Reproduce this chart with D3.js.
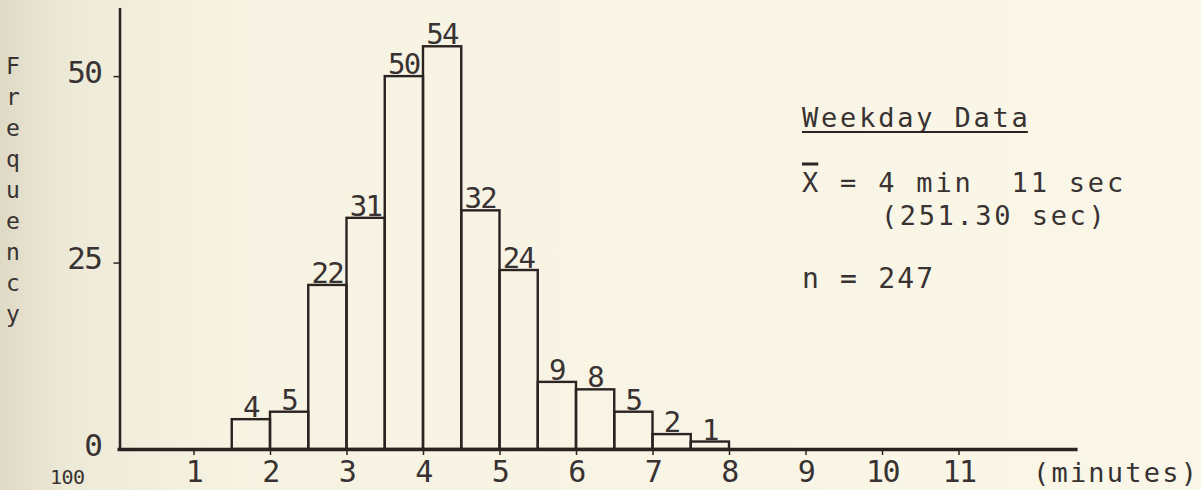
<!DOCTYPE html>
<html><head><meta charset="utf-8">
<script src="https://cdn.jsdelivr.net/npm/d3@7"></script>
<style>
html,body{margin:0;padding:0;background:#f8f4e4;}
body{width:1201px;height:490px;overflow:hidden;}
svg{display:block}
text{font-family:"DejaVu Sans Mono",monospace;fill:#383232;white-space:pre;}
</style></head><body>
<svg id="c" width="1201" height="490"></svg>
<script>
// ---- data ----
const binStarts = [1.5, 2, 2.5, 3, 3.5, 4, 4.5, 5, 5.5, 6, 6.5, 7, 7.5];
const binWidth = 0.5;
const frequencies = [4, 5, 22, 31, 50, 54, 32, 24, 9, 8, 5, 2, 1];
const xTicks = [1, 2, 3, 4, 5, 6, 7, 8, 9, 10, 11];
const yTicks = [0, 25, 50];
const yTitle = "Frequency";
const xUnit = "(minutes)";
const infoTitle = "Weekday Data";
const meanLine = "X = 4 min  11 sec";
const meanSecLine = "(251.30 sec)";
const nLine = "n = 247";
const strayLabel = "100";

const ink = "#2b2222";
const svg = d3.select("#c");

// background (paper with darker left edge)
const defs = svg.append("defs");
const g0 = defs.append("linearGradient").attr("id", "paper").attr("x1", 0).attr("x2", 1).attr("y1", 0).attr("y2", 0);
g0.append("stop").attr("offset", "0").attr("stop-color", "#dedac6");
g0.append("stop").attr("offset", "0.06").attr("stop-color", "#eeead8");
g0.append("stop").attr("offset", "0.2").attr("stop-color", "#f7f3e3");
g0.append("stop").attr("offset", "1").attr("stop-color", "#faf7e8");
svg.append("rect").attr("width", 1201).attr("height", 490).attr("fill", "url(#paper)");

// scales
const x = d3.scaleLinear().domain([0, 12.55]).range([117, 117 + 12.55 * 76.5]);
const y = d3.scaleLinear().domain([0, 59.2]).range([449, 7.5]);
const yAxisX = 119.5;

// bars
svg.append("g").selectAll("rect").data(frequencies).join("rect")
  .attr("x", (d, i) => x(binStarts[i]))
  .attr("width", (d, i) => x(binStarts[i] + binWidth) - x(binStarts[i]))
  .attr("y", d => y(d))
  .attr("height", d => y(0) - y(d))
  .attr("fill", "none").attr("stroke", ink).attr("stroke-width", 2.4);

// bar value labels
svg.append("g").selectAll("text").data(frequencies).join("text")
  .attr("x", (d, i) => x(binStarts[i] + binWidth / 2))
  .attr("y", d => y(d) - 2)
  .attr("text-anchor", "middle")
  .attr("font-size", 29).attr("letter-spacing", -1.5)
  .text(d => d);

// x axis
const xAxis = d3.axisBottom(x).tickValues(xTicks).tickSize(6).tickSizeOuter(0).tickPadding(6);
const gx = svg.append("g").attr("transform", `translate(0,${y(0)})`).call(xAxis);
gx.select(".domain").attr("stroke", ink).attr("stroke-width", 3.5);
gx.selectAll(".tick line").attr("stroke", ink).attr("stroke-width", 1.5);
gx.selectAll(".tick text").attr("font-size", 30).attr("font-family", null).attr("fill", null).attr("letter-spacing", -1.5);

// y axis
const yAxis = d3.axisLeft(y).tickValues(yTicks).tickSize(6).tickSizeOuter(0).tickPadding(12);
const gy = svg.append("g").attr("transform", `translate(${yAxisX},0)`).call(yAxis);
gy.select(".domain").attr("stroke", ink).attr("stroke-width", 2.5);
gy.selectAll(".tick line").attr("stroke", ink).attr("stroke-width", 1.5)
  .attr("display", d => d === 0 ? "none" : null);
gy.selectAll(".tick text").attr("font-size", 31).attr("font-family", null).attr("fill", null)
  .attr("dy", "0.2em").attr("letter-spacing", -1.5);

// y title, letters stacked
svg.append("g").selectAll("text").data(yTitle.split("")).join("text")
  .attr("x", 13).attr("y", (d, i) => 67 + i * 31 + 7)
  .attr("text-anchor", "middle").attr("font-size", 23)
  .text(d => d);

// x unit
svg.append("text").attr("x", 1033).attr("y", 482).attr("font-size", 27).attr("letter-spacing", 2.2).text(xUnit);

// stray label at bottom edge
svg.append("text").attr("x", 50).attr("y", 484).attr("font-size", 20).attr("letter-spacing", -0.5).text(strayLabel);

// info block
const tTitle = svg.append("text").attr("x", 802).attr("y", 127).attr("font-size", 27).attr("letter-spacing", 2.8).text(infoTitle);
const tb = tTitle.node().getBBox();
svg.append("line").attr("x1", tb.x).attr("x2", tb.x + tb.width - 2.8).attr("y1", 132).attr("y2", 132)
  .attr("stroke", ink).attr("stroke-width", 2.2);

const tMean = svg.append("text").attr("x", 802).attr("y", 192).attr("font-size", 27).attr("letter-spacing", 2.8).text(meanLine);
const xw = tMean.node().getSubStringLength(0, 1);
svg.append("line").attr("x1", 802).attr("x2", 802 + xw - 2.8).attr("y1", 164).attr("y2", 164)
  .attr("stroke", ink).attr("stroke-width", 3);
svg.append("text").attr("x", 881).attr("y", 225).attr("font-size", 27).attr("letter-spacing", 2.6).text(meanSecLine);
svg.append("text").attr("x", 802).attr("y", 288).attr("font-size", 28).attr("letter-spacing", 2.2).text(nLine);
</script>
</body></html>
